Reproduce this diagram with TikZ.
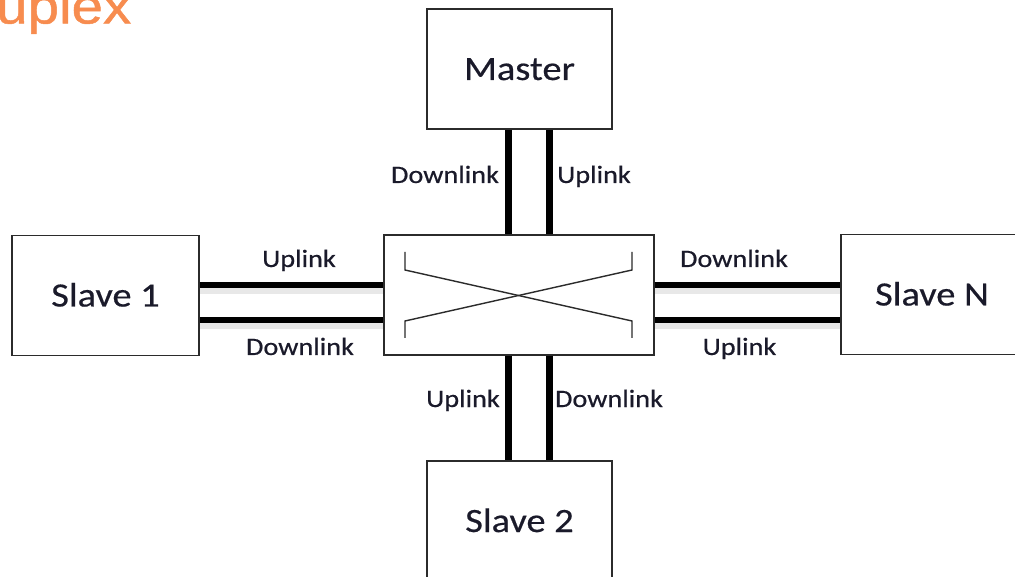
\documentclass[tikz,border=0pt]{standalone}
\usepackage{fontspec}
\setmainfont[FakeStretch=1.13,FakeBold=0.5]{Carlito}
\newfontfamily\titlefont[FakeStretch=1.13,FakeBold=1]{Liberation Sans}
\usetikzlibrary{calc}
\definecolor{txt}{HTML}{1A1A2A}
\definecolor{boxline}{HTML}{2B2B2B}
\definecolor{orangetitle}{HTML}{F78C4F}
\begin{document}
\begin{tikzpicture}[x=1pt,y=-1pt,
  unit/.style={draw=boxline, line width=1.3pt, fill=white, minimum width=#1, minimum height=120pt,
    inner sep=0pt, font=\fontsize{34}{40}\selectfont, text=txt, text height=22pt, text depth=0pt},
  unit/.default=185pt,
  vlink/.style={line width=7pt, black},
  hlink/.style={line width=6pt, black},
  linkshadow/.style={line width=8pt, black, opacity=0.09},
  lbl/.style={font=\fontsize{25}{30}\selectfont, text=txt, inner sep=0pt, anchor=base},
  xline/.style={line width=1.4pt, draw=boxline, line join=miter}
]
\useasboundingbox (0,0) rectangle (1015,577);
\clip (0,0) rectangle (1015,577);

% title (clipped at the picture's edge, as in the reference)
\node[anchor=base west, inner sep=0pt, font=\titlefont\fontsize{50}{58}\selectfont, text=orangetitle] (title) at (-4,23.5) {uplex};

% boxes
\node[unit=185pt] (master) at (519.5,69) {Master};
\node[unit=270pt] (switch) at (519,295) {};
\node[unit=187pt] (slave1) at (105.5,295.5) {Slave 1};
\node[unit=182pt] (slaveN) at (932,294.5) {Slave N};
\node[unit=185pt] (slave2) at (519.5,521) {Slave 2};

% crossing inside the switch
\draw[xline] ($(switch.center)+(-114,-43)$) -- ++(0,18) -- ($(switch.center)+(113,26)$) -- ++(0,17);
\draw[xline] ($(switch.center)+(-114,43)$) -- ++(0,-17) -- ($(switch.center)+(113,-25)$) -- ++(0,-18);

% helper coordinates for the link positions
\coordinate (vA) at (508.5,0);
\coordinate (vB) at (549.5,0);
\coordinate (hA) at (0,285);
\coordinate (hB) at (0,320);
\coordinate (hAs) at (0,290);
\coordinate (hBs) at (0,325);

% shadows
\draw[linkshadow] (slave1.east |- hAs) -- (switch.west |- hAs);
\draw[linkshadow] (slave1.east |- hBs) -- (switch.west |- hBs);
\draw[linkshadow] (switch.east |- hAs) -- (slaveN.west |- hAs);
\draw[linkshadow] (switch.east |- hBs) -- (slaveN.west |- hBs);

% links
\draw[vlink] (master.south -| vA) -- (switch.north -| vA);
\draw[vlink] (master.south -| vB) -- (switch.north -| vB);
\draw[vlink] (switch.south -| vA) -- (slave2.north -| vA);
\draw[vlink] (switch.south -| vB) -- (slave2.north -| vB);
\draw[hlink] (slave1.east |- hA) -- (switch.west |- hA);
\draw[hlink] (slave1.east |- hB) -- (switch.west |- hB);
\draw[hlink] (switch.east |- hA) -- (slaveN.west |- hA);
\draw[hlink] (switch.east |- hB) -- (slaveN.west |- hB);

% labels
\node[lbl] (lTD) at (445,183) {Downlink};
\node[lbl] (lTU) at (594,183) {Uplink};
\node[lbl] (lLU) at (299,267) {Uplink};
\node[lbl] (lLD) at (300,355) {Downlink};
\node[lbl] (lRD) at (734,267) {Downlink};
\node[lbl] (lRU) at (739.5,355) {Uplink};
\node[lbl] (lBU) at (463,407) {Uplink};
\node[lbl] (lBD) at (609,407) {Downlink};
\end{tikzpicture}
\end{document}
